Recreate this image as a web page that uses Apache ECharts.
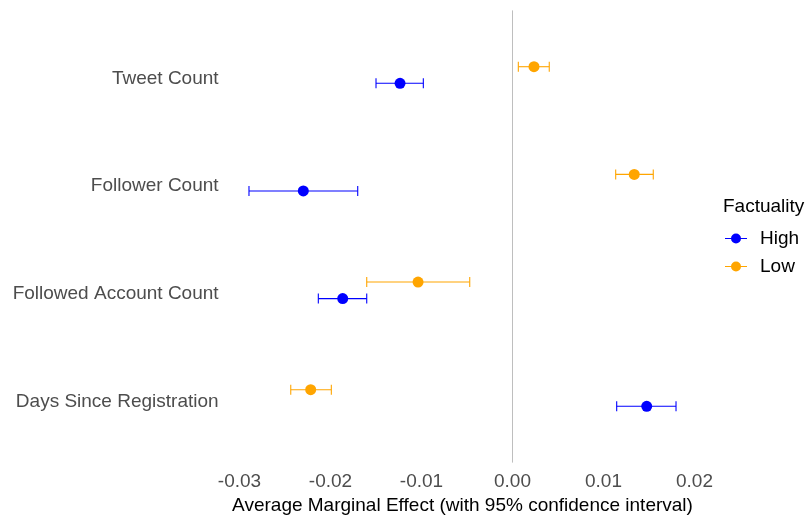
<!DOCTYPE html>
<html>
<head>
<meta charset="utf-8">
<script src="https://cdn.jsdelivr.net/npm/echarts@6/dist/echarts.min.js"></script>
<style>
html,body{margin:0;padding:0;background:#fff;}
#chart{width:807px;height:515px;}
</style>
</head>
<body>
<div id="chart"></div>
<script>
const categories = ['Tweet Count', 'Follower Count', 'Followed Account Count', 'Days Since Registration'];
const highEst = [-0.01236, -0.02299, -0.01866, 0.01475];
const highLo  = [-0.01500, -0.02896, -0.02134, 0.01145];
const highHi  = [-0.00980, -0.01701, -0.01602, 0.01797];
const lowEst  = [0.00236, 0.01338, -0.01038, -0.02218];
const lowLo   = [0.00064, 0.01134, -0.01602, -0.02437];
const lowHi   = [0.00404, 0.01547, -0.00470, -0.01991];
const xTicks  = [-0.03, -0.02, -0.01, 0.00, 0.01, 0.02];
const groups  = ['High', 'Low'];

const FONT = '"Liberation Sans", Arial, sans-serif';
const colors = { High: '#0000FF', Low: '#FFA500' };
const dodge = { High: 0.077, Low: -0.077 };

function pts(est, g) { return est.map((v, i) => [v, i + 1 + dodge[g]]); }
function bars(lo, hi, g) { return lo.map((v, i) => [v, hi[i], i + 1 + dodge[g]]); }

function errRender(color) {
  return function (params, api) {
    const y = api.value(2);
    const a = api.coord([api.value(0), y]);
    const b = api.coord([api.value(1), y]);
    const h = 5;
    const st = { stroke: color, lineWidth: 1.1 };
    return {
      type: 'group',
      children: [
        { type: 'line', shape: { x1: a[0], y1: a[1], x2: b[0], y2: b[1] }, style: st },
        { type: 'line', shape: { x1: a[0], y1: a[1] - h, x2: a[0], y2: a[1] + h }, style: st },
        { type: 'line', shape: { x1: b[0], y1: b[1] - h, x2: b[0], y2: b[1] + h }, style: st }
      ]
    };
  };
}

const legendIcon = 'path://M0,4.5 L22,4.5 L22,5.6 L0,5.6 Z M16,5 A5,5 0 1 1 6,5 A5,5 0 1 1 16,5 Z';

const chart = echarts.init(document.getElementById('chart'), null, { renderer: 'canvas' });
chart.setOption({
  animation: false,
  backgroundColor: '#fff',
  textStyle: { fontFamily: FONT },
  title: {
    text: 'Factuality', left: 723, top: 197, padding: 0,
    textStyle: { fontFamily: FONT, fontSize: 19, fontWeight: 'normal', color: '#000' }
  },
  legend: {
    orient: 'vertical', left: 725, top: 229, padding: 0,
    itemWidth: 22, itemHeight: 11, itemGap: 9,
    data: groups.map(g => ({ name: g, icon: legendIcon, itemStyle: { color: colors[g] } })),
    textStyle: { fontFamily: FONT, fontSize: 19, color: '#000', padding: [0, 0, 0, 8], lineHeight: 19 },
    selectedMode: false
  },
  grid: { left: 227.6, right: 109.6, top: 10.4, bottom: 52.4, containLabel: false, outerBoundsMode: 'none' },
  xAxis: {
    type: 'value', min: -0.03131, max: 0.02032,
    axisLine: { show: false }, axisTick: { show: false }, splitLine: { show: false },
    axisLabel: {
      customValues: xTicks, formatter: v => v.toFixed(2),
      fontFamily: FONT, fontSize: 19, color: '#4D4D4D', margin: 10
    },
    name: 'Average Marginal Effect (with 95% confidence interval)',
    nameLocation: 'middle', nameGap: 33,
    nameTextStyle: { fontFamily: FONT, fontSize: 19, color: '#000' }
  },
  yAxis: {
    type: 'value', inverse: true, min: 0.4, max: 4.6,
    axisLine: { show: false }, axisTick: { show: false }, splitLine: { show: false },
    axisLabel: {
      customValues: categories.map((c, i) => i + 1),
      formatter: v => '{a|' + categories[Math.round(v) - 1] + '}',
      rich: { a: { fontFamily: FONT, fontSize: 19, color: '#4D4D4D', padding: [7, 0, 0, 0] } },
      fontFamily: FONT, fontSize: 19, color: '#4D4D4D', margin: 9
    }
  },
  series: [
    {
      type: 'line', data: [], silent: true,
      markLine: {
        silent: true, symbol: 'none', label: { show: false },
        lineStyle: { color: '#BEBEBE', width: 1, type: 'solid' },
        data: [{ xAxis: 0 }]
      }
    },
    { name: 'High', type: 'custom', renderItem: errRender(colors.High), data: bars(highLo, highHi, 'High'), encode: { x: [0, 1], y: 2 }, z: 2 },
    { name: 'Low', type: 'custom', renderItem: errRender(colors.Low), data: bars(lowLo, lowHi, 'Low'), encode: { x: [0, 1], y: 2 }, z: 2 },
    { name: 'High', type: 'scatter', data: pts(highEst, 'High'), symbolSize: 11, itemStyle: { color: colors.High, opacity: 1 }, z: 3 },
    { name: 'Low', type: 'scatter', data: pts(lowEst, 'Low'), symbolSize: 11, itemStyle: { color: colors.Low, opacity: 1 }, z: 3 }
  ]
});
</script>
</body>
</html>
